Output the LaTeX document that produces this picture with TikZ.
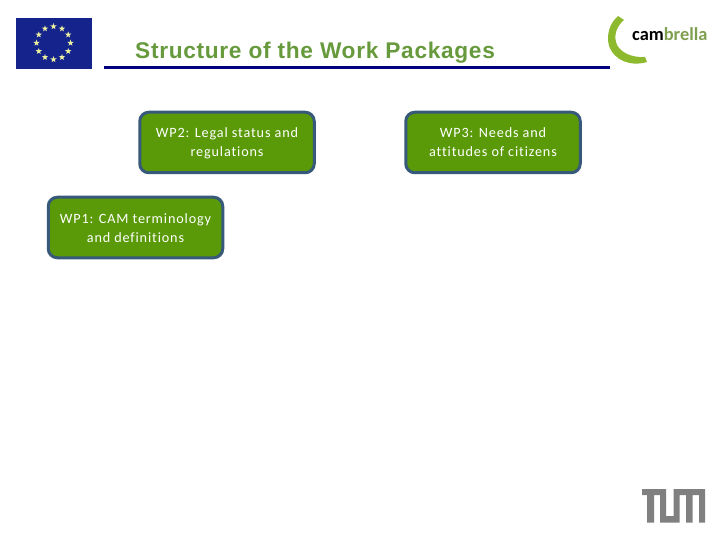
\documentclass[tikz,border=0pt]{standalone}
\usepackage{fontspec}
\setmainfont{Carlito}
\newfontfamily\titlefont{Liberation Sans}
\usetikzlibrary{shapes.geometric}
\definecolor{flagblue}{HTML}{14248C}
\definecolor{staryellow}{HTML}{EDF0A0}
\definecolor{titlegreen}{HTML}{669A3C}
\definecolor{rulenavy}{HTML}{000080}
\definecolor{boxgreen}{HTML}{5A9A08}
\definecolor{boxedge}{HTML}{37597A}
\definecolor{logogreen}{HTML}{8DB92E}
\definecolor{brellagreen}{HTML}{7F9F50}
\definecolor{tumgray}{HTML}{808080}
\newcommand{\topstrut}{\rule{0pt}{14pt}}
\newcommand{\botstrut}{\rule[-4pt]{0pt}{4pt}}
\tikzset{
  x=1pt,y=-1pt,
  wpbox/.style={draw=boxedge,line width=3pt,fill=boxgreen,rounded corners=9pt,minimum width=174.5pt,minimum height=60.5pt,inner sep=0pt,text=white,align=center,font=\fontsize{14.2}{19}\selectfont\addfontfeatures{LetterSpace=6,Ligatures={NoCommon,NoRequired,NoContextual}}},
  euStar/.style={star,star points=5,star point ratio=2.4,fill=staryellow,inner sep=0pt,minimum size=6.5pt},
  tumshape/.style={fill=tumgray,draw=none}
}
\begin{document}
\begin{tikzpicture}
\useasboundingbox (0,0) rectangle (720,540);
\fill[flagblue] (16,18) rectangle (92,69);
\foreach \a in {0,30,...,330}{
  \node[euStar] (star\a) at ({53.5+17*cos(\a)},{43+16.5*sin(\a)}) {};
}
\node[anchor=base west,inner sep=0pt,text=titlegreen,font=\titlefont\bfseries\fontsize{22.7}{26}\selectfont\addfontfeatures{LetterSpace=3}] (title) at (135,58.5) {Structure of the Work Packages};
\fill[rulenavy] (104,66) rectangle (610,69);
\node[wpbox] (wp2) at (227,142.5) {\topstrut WP2: Legal status and\\regulations\botstrut};
\node[wpbox] (wp3) at (493,142.5) {\topstrut WP3: Needs and\\attitudes of citizens\botstrut};
\node[wpbox] (wp1) at (135.5,227.5) {\topstrut WP1: CAM terminology\\and definitions\botstrut};
% cambrella logo
\fill[logogreen] (618,16) -- (624,20) .. controls (617,26) and (614,34) .. (616,42) .. controls (618,51) and (630,58) .. (645,57) -- (647,62) .. controls (630,67) and (614,60) .. (609,46) .. controls (606,34) and (610,23) .. (618,16) -- cycle;
\node[anchor=base west,inner sep=0pt,font=\fontsize{18.4}{20}\selectfont\bfseries] (logo) at (632,41) {\textcolor{black}{cam}\textcolor{brellagreen}{brella}};
% TUM logo
\fill[tumshape] (642,489) -- (666,489) -- (666,516) -- (673.5,516) -- (673.5,489) -- (705,489) -- (705,522.5) -- (699,522.5) -- (699,495) -- (692.5,495) -- (692.5,522.5) -- (686,522.5) -- (686,495) -- (679.5,495) -- (679.5,522.5) -- (660,522.5) -- (660,495) -- (654,495) -- (654,522.5) -- (647,522.5) -- (647,495) -- (642,495) -- cycle;
\end{tikzpicture}
\end{document}
